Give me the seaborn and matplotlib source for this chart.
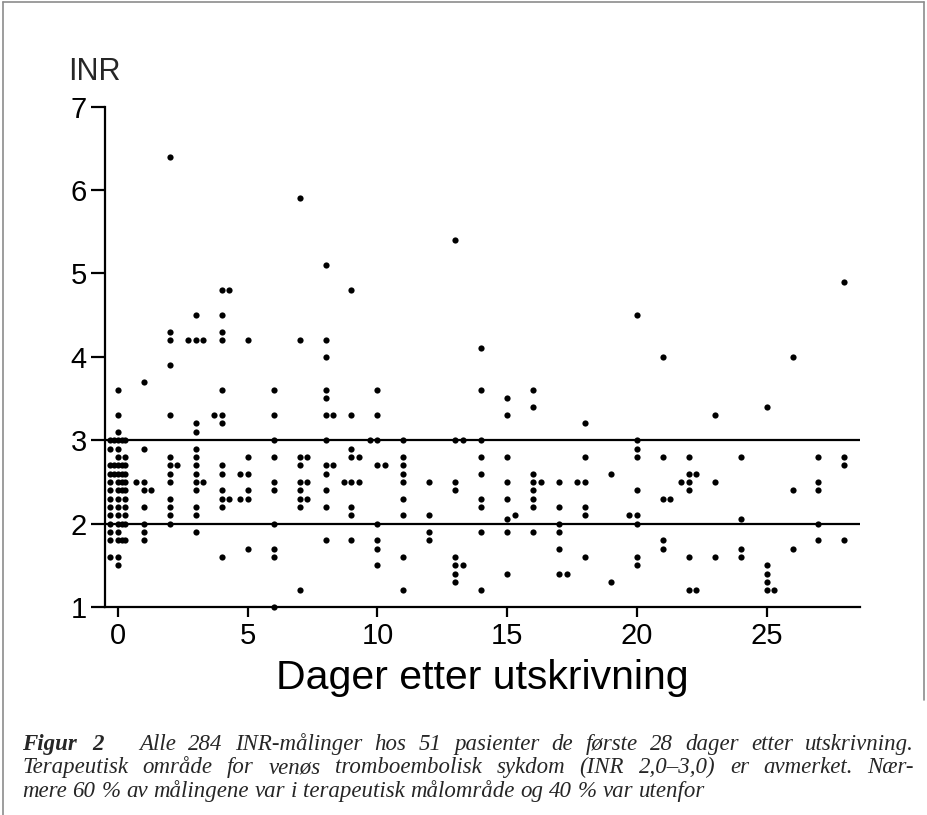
import pandas as pd
import numpy as np
import matplotlib
matplotlib.use("Agg")
import matplotlib.pyplot as plt
from matplotlib.lines import Line2D
import seaborn as sns

# INR measurements per day after discharge (x = day, slightly dodged where values coincide)
day = [
    # day 0
    0, 0, 0,
    -0.29, -0.14, 0, 0.14, 0.29,
    -0.29, 0,
    0, 0.29,
    -0.29, -0.14, 0, 0.14, 0.29,
    -0.29, -0.14, 0, 0.14, 0.29,
    -0.29, 0, 0.14, 0.29,
    -0.29, 0, 0.14, 0.29,
    -0.29, 0, 0.29,
    -0.29, 0, 0.29,
    -0.29, 0, 0.29,
    -0.29, 0, 0.14, 0.29,
    -0.29, 0,
    -0.29, 0, 0.14, 0.29,
    -0.29, 0,
    0,
    # day 1
    1, 1, 0.71, 1, 1, 1.29, 1, 1, 1, 1,
    # day 2
    2, 2, 2, 2, 2, 2, 2, 2.29, 2, 2, 2, 2, 2, 2,
    # day 3
    3, 2.71, 3, 3.29, 3, 3, 3, 3, 3, 3, 3, 3.29, 3, 3, 3, 3,
    # day 4
    4, 4.29, 4, 4, 4, 4, 3.71, 4, 4, 4, 4, 4, 4, 4.29, 4, 4,
    # day 5
    5, 5, 4.71, 5, 5, 4.71, 5, 5,
    # day 6
    6, 6, 6, 6, 6, 6, 6, 6, 6, 6,
    # day 7
    7, 7, 7, 7.29, 7, 7, 7.29, 7, 7, 7.29, 7, 7,
    # day 8
    8, 8, 8, 8, 8, 8, 8.29, 8, 8, 8.29, 8, 8, 8, 8,
    # day 9
    9, 9, 9, 9, 9.29, 8.71, 9, 9.29, 9, 9, 9,
    # day 10
    10, 10, 9.71, 10, 10, 10.29, 10, 10, 10, 10,
    # day 11
    11, 11, 11, 11, 11, 11, 11, 11, 11,
    # day 12
    12, 12, 12, 12,
    # day 13
    13, 13, 13.29, 13, 13, 13, 13, 13.29, 13, 13,
    # day 14
    14, 14, 14, 14, 14, 14, 14, 14, 14,
    # day 15
    15, 15, 15, 15, 15, 15, 15.29, 15, 15,
    # day 16
    16, 16, 16, 16, 16.29, 16, 16, 16, 16,
    # day 17
    17, 17, 17, 17, 17, 17, 17.29,
    # day 18
    18, 18, 17.71, 18, 18, 18, 18,
    # day 19
    19, 19,
    # day 20
    20, 20, 20, 20, 20, 19.71, 20, 20, 20, 20,
    # day 21
    21, 21, 21, 21.29, 21, 21,
    # day 22
    22, 22, 22.29, 21.71, 22, 22, 22, 22, 22.29,
    # day 23
    23, 23, 23,
    # day 24
    24, 24, 24, 24,
    # day 25
    25, 25, 25, 25, 25, 25.29,
    # day 26
    26, 26, 26,
    # day 27
    27, 27, 27, 27, 27,
    # day 28
    28, 28, 28, 28,
]

inr = [
    # day 0
    3.6, 3.3, 3.1,
    3.0, 3.0, 3.0, 3.0, 3.0,
    2.9, 2.9,
    2.8, 2.8,
    2.7, 2.7, 2.7, 2.7, 2.7,
    2.6, 2.6, 2.6, 2.6, 2.6,
    2.5, 2.5, 2.5, 2.5,
    2.4, 2.4, 2.4, 2.4,
    2.3, 2.3, 2.3,
    2.2, 2.2, 2.2,
    2.1, 2.1, 2.1,
    2.0, 2.0, 2.0, 2.0,
    1.9, 1.9,
    1.8, 1.8, 1.8, 1.8,
    1.6, 1.6,
    1.5,
    # day 1
    3.7, 2.9, 2.5, 2.5, 2.4, 2.4, 2.2, 2.0, 1.9, 1.8,
    # day 2
    6.4, 4.3, 4.2, 3.9, 3.3, 2.8, 2.7, 2.7, 2.6, 2.5, 2.3, 2.2, 2.1, 2.0,
    # day 3
    4.5, 4.2, 4.2, 4.2, 3.2, 3.1, 2.9, 2.8, 2.7, 2.6, 2.5, 2.5, 2.4, 2.2, 2.1, 1.9,
    # day 4
    4.8, 4.8, 4.5, 4.3, 4.2, 3.6, 3.3, 3.3, 3.2, 2.7, 2.6, 2.4, 2.3, 2.3, 2.2, 1.6,
    # day 5
    4.2, 2.8, 2.6, 2.6, 2.4, 2.3, 2.3, 1.7,
    # day 6
    3.6, 3.3, 3.0, 2.8, 2.5, 2.4, 2.0, 1.7, 1.6, 1.0,
    # day 7
    5.9, 4.2, 2.8, 2.8, 2.7, 2.5, 2.5, 2.4, 2.3, 2.3, 2.2, 1.2,
    # day 8
    5.1, 4.2, 4.0, 3.6, 3.5, 3.3, 3.3, 3.0, 2.7, 2.7, 2.6, 2.4, 2.2, 1.8,
    # day 9
    4.8, 3.3, 2.9, 2.8, 2.8, 2.5, 2.5, 2.5, 2.2, 2.1, 1.8,
    # day 10
    3.6, 3.3, 3.0, 3.0, 2.7, 2.7, 2.0, 1.8, 1.7, 1.5,
    # day 11
    3.0, 2.8, 2.7, 2.6, 2.5, 2.3, 2.1, 1.6, 1.2,
    # day 12
    2.5, 2.1, 1.9, 1.8,
    # day 13
    5.4, 3.0, 3.0, 2.5, 2.4, 1.6, 1.5, 1.5, 1.4, 1.3,
    # day 14
    4.1, 3.6, 3.0, 2.8, 2.6, 2.3, 2.2, 1.9, 1.2,
    # day 15
    3.5, 3.3, 2.8, 2.5, 2.3, 2.05, 2.1, 1.9, 1.4,
    # day 16
    3.6, 3.4, 2.6, 2.5, 2.5, 2.4, 2.3, 2.2, 1.9,
    # day 17
    2.5, 2.2, 2.0, 1.9, 1.7, 1.4, 1.4,
    # day 18
    3.2, 2.8, 2.5, 2.5, 2.2, 2.1, 1.6,
    # day 19
    2.6, 1.3,
    # day 20
    4.5, 3.0, 2.9, 2.8, 2.4, 2.1, 2.1, 2.0, 1.6, 1.5,
    # day 21
    4.0, 2.8, 2.3, 2.3, 1.8, 1.7,
    # day 22
    2.8, 2.6, 2.6, 2.5, 2.5, 2.4, 1.6, 1.2, 1.2,
    # day 23
    3.3, 2.5, 1.6,
    # day 24
    2.8, 2.05, 1.7, 1.6,
    # day 25
    3.4, 1.5, 1.4, 1.3, 1.2, 1.2,
    # day 26
    4.0, 2.4, 1.7,
    # day 27
    2.8, 2.5, 2.4, 2.0, 1.8,
    # day 28
    4.9, 2.8, 2.7, 1.8,
]

target_range = [2.0, 3.0]
x_ticks = [0, 5, 10, 15, 20, 25]
y_ticks = [1, 2, 3, 4, 5, 6, 7]

caption_title = "Figur 2"
caption_line1 = "Alle 284 INR-målinger hos 51 pasienter de første 28 dager etter utskrivning."
caption_line2 = "Terapeutisk område for venøs tromboembolisk sykdom (INR 2,0\u20133,0) er avmerket. Nær-"
caption_line3 = "mere 60\u2009% av målingene var i terapeutisk målområde og 40\u2009% var utenfor"

df = pd.DataFrame({"day": day, "inr": inr})

sns.set_style("ticks")
plt.rcParams["font.family"] = ["Liberation Sans", "DejaVu Sans"]

W, H = 927, 815
fig = plt.figure(figsize=(W / 100, H / 100), dpi=100)
ax = fig.add_axes([105 / W, 1 - 607 / H, (860 - 105) / W, (607 - 106.5) / H])

sns.scatterplot(data=df, x="day", y="inr", color="black", s=20, linewidth=0,
                clip_on=False, zorder=3, ax=ax)

for v in target_range:
    ax.axhline(v, color="black", lw=1.6, zorder=2)

ax.set_xlim(-0.5, 28.6)
ax.set_ylim(1, 7)
ax.set_xticks(x_ticks)
ax.set_yticks(y_ticks)
ax.tick_params(axis="y", length=10, width=1.6, pad=3, labelsize=21, colors="black")
ax.tick_params(axis="x", length=7.5, width=1.6, pad=3, labelsize=21, colors="black")
for side in ["top", "right"]:
    ax.spines[side].set_visible(False)
for side in ["left", "bottom"]:
    ax.spines[side].set_linewidth(1.6)
    ax.spines[side].set_color("black")
ax.set_xlabel("Dager etter utskrivning", fontsize=29.5, labelpad=7, color="black")
ax.set_ylabel("")

fig.text(68 / W, 1 - 79.5 / H, "INR", fontsize=22, ha="left", va="baseline")

# frame around the figure
frame = dict(color="#8c8c8c", lw=1.2, transform=fig.transFigure)
fig.add_artist(Line2D([3 / W, 3 / W], [0, 1 - 2 / H], **frame))
fig.add_artist(Line2D([3 / W, 924 / W], [1 - 2 / H, 1 - 2 / H], **frame))
fig.add_artist(Line2D([924 / W, 924 / W], [1 - 2 / H, 1 - 700 / H], **frame))

# caption, justified like the printed page
serif = ["Liberation Serif", "DejaVu Serif"]
cap_size = 16.5
renderer = fig.canvas.get_renderer()


def place_words(words, x0, x1, y, justify=True, **kw):
    texts = [fig.text(0, 1 - y / H, w, fontsize=cap_size, family=serif,
                      style="italic", va="baseline", ha="left", **kw) for w in words]
    widths = [t.get_window_extent(renderer).width for t in texts]
    if justify and len(words) > 1:
        gap = (x1 - x0 - sum(widths)) / (len(words) - 1)
    else:
        space = fig.text(0, 0, "a a", fontsize=cap_size, family=serif, style="italic")
        aa = fig.text(0, 0, "aa", fontsize=cap_size, family=serif, style="italic")
        gap = space.get_window_extent(renderer).width - aa.get_window_extent(renderer).width
        space.remove()
        aa.remove()
    x = x0
    for t, w in zip(texts, widths):
        t.set_x(x / W)
        x += w + gap


place_words(caption_title.split(), 22, 104, 750, weight="bold")
place_words(caption_line1.split(), 139, 914, 750)
place_words(caption_line2.split(), 22, 914, 773)
place_words(caption_line3.split(), 22, 0, 797, justify=False)

fig.savefig("out.png", dpi=100)
